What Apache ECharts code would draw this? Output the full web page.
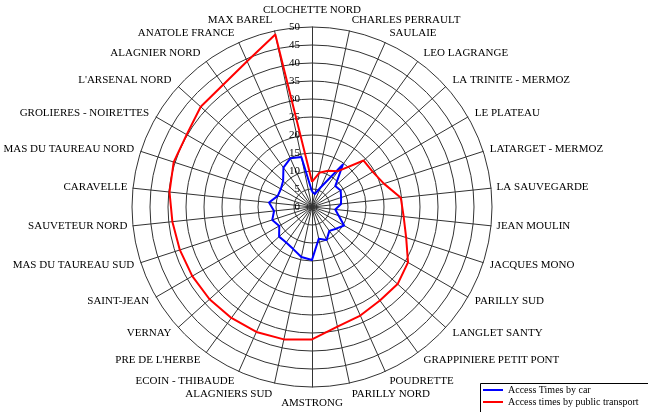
<!DOCTYPE html>
<html><head><meta charset="utf-8">
<script src="https://cdn.jsdelivr.net/npm/echarts@6/dist/echarts.min.js"></script>
<style>html,body{margin:0;padding:0;background:#fff}#c{width:648px;height:412px}</style>
</head><body><div id="c"></div>
<script>
// Categories in clockwise order starting from the top
const categories = ["CLOCHETTE NORD","CHARLES PERRAULT","SAULAIE","LEO LAGRANGE","LA TRINITE - MERMOZ","LE PLATEAU","LATARGET - MERMOZ","LA SAUVEGARDE","JEAN MOULIN","JACQUES MONO","PARILLY SUD","LANGLET SANTY","GRAPPINIERE PETIT PONT","POUDRETTE","PARILLY NORD","AMSTRONG","ALAGNIERS SUD","ECOIN - THIBAUDE","PRE DE L'HERBE","VERNAY","SAINT-JEAN","MAS DU TAUREAU SUD","SAUVETEUR NORD","CARAVELLE","MAS DU TAUREAU NORD","GROLIERES - NOIRETTES","L'ARSENAL NORD","ALAGNIER NORD","ANATOLE FRANCE","MAX BAREL"];
const carTimes = [4.3,3.7,6,14.6,8.7,9.2,8.5,8.1,6.5,7.8,10.3,9,8.2,10,9,14.7,14.2,12.8,12.2,12.3,10.5,11.6,10.6,12,10,10,10.8,13.5,14.8,14.2];
const publicTimes = [7,9.7,11,12.3,19.3,19.5,21,24.8,25.6,27.5,30.8,32,32.1,33,34,36.8,37.6,38,38.1,38.3,38.4,38.6,39,39.8,40.4,40.2,41.6,42,44.3,49];
const radialMin = 0;
const radialMax = 50;
const radialStep = 5;
const seriesNames = ["Access Times by car","Access times by public transport"];
const seriesColors = ['#0000ff', '#ff0000'];

// ECharts lays radar indicators counter-clockwise; reorder so the picture runs clockwise.
const n = categories.length;
const order = [0];
for (let i = n - 1; i >= 1; i--) order.push(i);

const font = "'Liberation Serif', 'DejaVu Serif', serif";
const legendStyle = {
  orient: 'vertical',
  left: 483,
  itemWidth: 20, itemHeight: 2,
  icon: 'rect',
  padding: 0,
  textStyle: {fontFamily: font, fontSize: 10, color: '#000'}
};
const chart = echarts.init(document.getElementById('c'), null, {renderer: 'canvas'});
chart.setOption({
  animation: false,
  backgroundColor: '#fff',
  graphic: [{
    type: 'rect', left: 480, top: 383, z: 0,
    shape: {width: 180, height: 40},
    style: {fill: '#fff', stroke: '#000', lineWidth: 1}
  }],
  legend: [
    Object.assign({}, legendStyle, {top: 385, data: [seriesNames[0]]}),
    Object.assign({}, legendStyle, {top: 397, data: [seriesNames[1]]})
  ],
  radar: {
    center: [312, 207],
    radius: 180,
    startAngle: 90,
    shape: 'circle',
    splitNumber: (radialMax - radialMin) / radialStep,
    nameGap: 5,
    axisName: {color: '#000', fontFamily: font, fontSize: 11},
    splitLine: {lineStyle: {color: '#333', width: 1}},
    splitArea: {show: false},
    axisLine: {lineStyle: {color: '#333', width: 1}},
    axisTick: {show: false},
    axisLabel: {show: true, color: '#000', fontFamily: font, fontSize: 11, margin: 12},
    indicator: order.map((k, j) => ({
      name: categories[k], min: radialMin, max: radialMax,
      nameGap: 5 + 6 * Math.abs(Math.cos(j * 2 * Math.PI / n)),
      axisLabel: {show: j === 0}
    }))
  },
  series: [{
    type: 'radar',
    symbol: 'none',
    z: 3,
    data: [
      {name: seriesNames[0], value: order.map(k => carTimes[k]), lineStyle: {color: seriesColors[0], width: 2}, itemStyle: {color: seriesColors[0]}},
      {name: seriesNames[1], value: order.map(k => publicTimes[k]), lineStyle: {color: seriesColors[1], width: 2}, itemStyle: {color: seriesColors[1]}}
    ]
  }]
});
</script></body></html>
